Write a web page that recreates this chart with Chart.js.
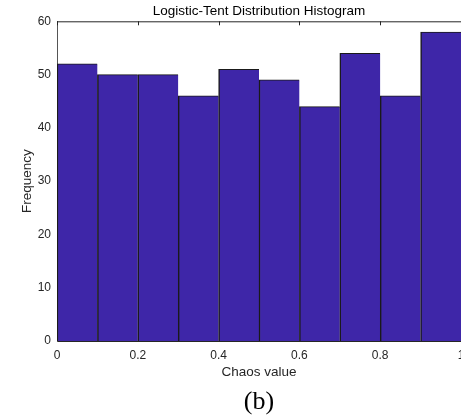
<!DOCTYPE html>
<html lang="en">
<head>
    <meta charset="UTF-8">
    <title>Logistic-Tent Distribution Histogram</title>
    <script src="https://cdn.jsdelivr.net/npm/chart.js"></script>
    <style>
        html, body { margin: 0; padding: 0; background: #fff; }
        #chart { display: block; }
    </style>
</head>
<body>
    <canvas id="chart" width="461" height="415"></canvas>

    <script>
        // Bin centres and counts
        const binCenters = [0.05, 0.15, 0.25, 0.35, 0.45, 0.55, 0.65, 0.75, 0.85, 0.95];
        const binCounts = [52, 50, 50, 46, 51, 49, 44, 54, 46, 58];
        const xTicks = [0, 0.2, 0.4, 0.6, 0.8, 1];
        const yTicks = [0, 10, 20, 30, 40, 50, 60];

        const axisColor = '#262626';
        const sansFont = 'Liberation Sans, Arial, sans-serif';

        // Top box line with inward ticks, like a MATLAB axes box
        const boxPlugin = {
            id: 'boxTop',
            afterDatasetsDraw(chart) {
                const { ctx, chartArea, scales } = chart;
                ctx.save();
                ctx.strokeStyle = axisColor;
                ctx.lineWidth = 1;
                ctx.beginPath();
                ctx.moveTo(chartArea.left, chartArea.top + 0.5);
                ctx.lineTo(chartArea.right, chartArea.top + 0.5);
                xTicks.forEach(v => {
                    const px = Math.round(scales.x.getPixelForValue(v)) + 0.5;
                    ctx.moveTo(px, chartArea.top);
                    ctx.lineTo(px, chartArea.top + 4);
                });
                ctx.stroke();
                ctx.restore();
            }
        };

        const chart = new Chart(document.getElementById('chart'), {
            type: 'bar',
            data: {
                datasets: [{
                    label: 'Frequency',
                    data: binCenters.map((x, i) => ({ x: x, y: binCounts[i] })),
                    backgroundColor: '#3e26a8',
                    borderColor: '#1a1a1a',
                    borderWidth: { top: 1, left: 1.5, right: 0, bottom: 0 },
                    borderSkipped: false,
                    barPercentage: 1,
                    categoryPercentage: 1
                }]
            },
            options: {
                responsive: false,
                animation: false,
                layout: { padding: 0, autoPadding: false },
                plugins: {
                    legend: { display: false },
                    tooltip: { enabled: false },
                    title: {
                        display: true,
                        text: 'Logistic-Tent Distribution Histogram',
                        fullSize: false,
                        color: '#000',
                        font: { family: sansFont, size: 13.5, weight: 'normal' },
                        padding: { top: 3, bottom: 2.1 }
                    },
                    subtitle: {
                        display: true,
                        position: 'bottom',
                        text: '(b)',
                        fullSize: false,
                        color: '#000',
                        font: { family: 'Liberation Serif, Times New Roman, serif', size: 26, lineHeight: 1 },
                        padding: 0
                    }
                },
                scales: {
                    x: {
                        type: 'linear',
                        min: 0,
                        max: 1,
                        offset: false,
                        z: 1,
                        grid: { display: false, drawTicks: false },
                        border: { display: true, color: axisColor, width: 1 },
                        afterBuildTicks: scale => { scale.ticks = xTicks.map(v => ({ value: v })); },
                        afterFit: scale => {
                            scale.height = 48;
                            // let the last label run off the edge, as in the original
                            scale.paddingLeft = 0;
                            scale.paddingRight = 0;
                        },
                        ticks: {
                            color: axisColor,
                            padding: 7,
                            maxRotation: 0,
                            font: { family: sansFont, size: 12 },
                            callback: v => String(v)
                        },
                        title: {
                            display: true,
                            text: 'Chaos value',
                            color: axisColor,
                            font: { family: sansFont, size: 13.5 },
                            padding: { top: 0, bottom: 9 }
                        }
                    },
                    y: {
                        min: 0,
                        max: 60,
                        z: 1,
                        grid: { display: false, drawTicks: false },
                        border: { display: true, color: '#555555', width: 1 },
                        afterBuildTicks: scale => { scale.ticks = yTicks.map(v => ({ value: v })); },
                        afterFit: scale => { scale.width = 57; },
                        ticks: {
                            color: axisColor,
                            padding: 6,
                            font: { family: sansFont, size: 12 }
                        },
                        title: {
                            display: true,
                            text: 'Frequency',
                            color: axisColor,
                            font: { family: sansFont, size: 13.5 },
                            padding: { top: 19, bottom: 0 }
                        }
                    }
                }
            },
            plugins: [boxPlugin]
        });
    </script>
</body>
</html>
